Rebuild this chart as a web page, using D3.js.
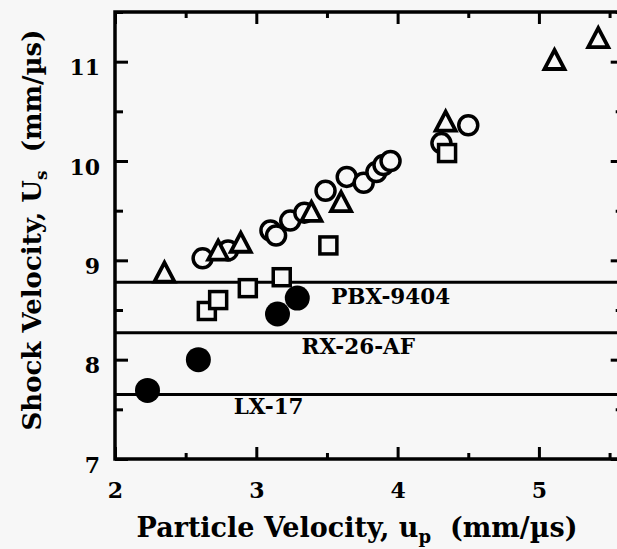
<!DOCTYPE html>
<html>
<head>
<meta charset="utf-8">
<script src="https://cdn.jsdelivr.net/npm/d3@7"></script>
<style>
  html, body { margin: 0; padding: 0; background: #f7f7f7; }
  svg { display: block; }
  text { font-family: "DejaVu Serif", serif; font-weight: bold; fill: #000; }
</style>
</head>
<body>
<svg id="chart" width="617" height="549"></svg>
<script>
// ---- data ----
const circleX = [2.62, 2.80, 3.10, 3.14, 3.24, 3.34, 3.49, 3.64, 3.76, 3.85, 3.90, 3.95, 4.31, 4.50];
const circleY = [9.02, 9.10, 9.30, 9.25, 9.40, 9.48, 9.70, 9.84, 9.78, 9.89, 9.96, 10.00, 10.18, 10.36];
const squareX = [2.65, 2.73, 2.94, 3.18, 3.51, 4.35];
const squareY = [8.49, 8.60, 8.72, 8.83, 9.15, 10.08];
const triangleX = [2.35, 2.73, 2.89, 3.39, 3.60, 4.34, 5.11, 5.42];
const triangleY = [8.85, 9.07, 9.15, 9.46, 9.56, 10.37, 10.99, 11.21];
const filledX = [2.23, 2.59, 3.15, 3.29];
const filledY = [7.69, 8.00, 8.46, 8.62];
const refNames = ["PBX-9404", "RX-26-AF", "LX-17"];
const refValues = [8.78, 8.27, 7.65];
const refLabelX = [3.53, 3.32, 2.84];
const refLabelY = [8.56, 8.06, 7.45];
const xTicks = [2, 3, 4, 5];
const xMinor = [2.5, 3.5, 4.5, 5.5];
const yTicks = [7, 8, 9, 10, 11];
const yMinor = [7.5, 8.5, 9.5, 10.5, 11.5];

(function () {
// ---- layout ----
const svg = d3.select("#chart");
const mLeft = 115, mTop = 12, mBottom = 459, mRight = 623.7;
const x = d3.scaleLinear().domain([2, 5.6]).range([mLeft, mRight]);
const y = d3.scaleLinear().domain([7, 11.5]).range([mBottom, mTop]);
const bg = "#f7f7f7";

// frame
svg.append("rect").attr("x", mLeft).attr("y", mTop)
  .attr("width", mRight - mLeft).attr("height", mBottom - mTop)
  .attr("fill", "none").attr("stroke", "#000").attr("stroke-width", 3.5);

function styleAxis(g) {
  g.select(".domain").remove();
  g.selectAll(".tick line").attr("stroke", "#000").attr("stroke-width", 3);
  g.selectAll(".tick text").attr("font-size", 22).attr("font-family", "DejaVu Serif, serif").attr("font-weight", "bold").attr("fill", "#000");
}

// bottom
svg.append("g").attr("transform", `translate(0,${mBottom})`)
  .call(d3.axisBottom(x).tickValues(xTicks).tickFormat(d3.format("d")).tickSize(-12).tickPadding(23))
  .call(styleAxis);
svg.append("g").attr("transform", `translate(0,${mBottom})`)
  .call(d3.axisBottom(x).tickValues(xMinor).tickFormat("").tickSize(-6))
  .call(styleAxis);
// top
svg.append("g").attr("transform", `translate(0,${mTop})`)
  .call(d3.axisTop(x).tickValues(xTicks).tickFormat("").tickSize(-12))
  .call(styleAxis);
svg.append("g").attr("transform", `translate(0,${mTop})`)
  .call(d3.axisTop(x).tickValues(xMinor).tickFormat("").tickSize(-6))
  .call(styleAxis);
// left
svg.append("g").attr("transform", `translate(${mLeft},0)`)
  .call(d3.axisLeft(y).tickValues(yTicks).tickFormat(d3.format("d")).tickSize(-13).tickPadding(15))
  .call(styleAxis)
  .selectAll(".tick text").attr("dy", "0.6em");
svg.append("g").attr("transform", `translate(${mLeft},0)`)
  .call(d3.axisLeft(y).tickValues(yMinor).tickFormat("").tickSize(-8))
  .call(styleAxis);
// right
svg.append("g").attr("transform", `translate(${mRight},0)`)
  .call(d3.axisRight(y).tickValues(yTicks).tickFormat("").tickSize(-13))
  .call(styleAxis);
svg.append("g").attr("transform", `translate(${mRight},0)`)
  .call(d3.axisRight(y).tickValues(yMinor).tickFormat("").tickSize(-8))
  .call(styleAxis);

// reference lines
refValues.forEach((v, i) => {
  svg.append("line").attr("x1", mLeft).attr("x2", mRight)
    .attr("y1", y(v)).attr("y2", y(v))
    .attr("stroke", "#000").attr("stroke-width", 3);
  svg.append("text").attr("x", x(refLabelX[i])).attr("y", y(refLabelY[i]))
    .attr("font-size", 21.5).text(refNames[i]);
});

// markers
const g = svg.append("g");
g.selectAll("circle.open").data(d3.range(circleX.length)).join("circle")
  .attr("class", "open")
  .attr("cx", i => x(circleX[i])).attr("cy", i => y(circleY[i])).attr("r", 9.5)
  .attr("fill", bg).attr("stroke", "#000").attr("stroke-width", 3.5);
g.selectAll("rect.sq").data(d3.range(squareX.length)).join("rect")
  .attr("class", "sq")
  .attr("x", i => x(squareX[i]) - 8.5).attr("y", i => y(squareY[i]) - 8.5)
  .attr("width", 17).attr("height", 17)
  .attr("fill", bg).attr("stroke", "#000").attr("stroke-width", 3.5);
const tw = 20, th = 19;
g.selectAll("path.tri").data(d3.range(triangleX.length)).join("path")
  .attr("class", "tri")
  .attr("d", i => {
    const cx = x(triangleX[i]), cy = y(triangleY[i]);
    return `M${cx},${cy - th * 2 / 3}L${cx + tw / 2},${cy + th / 3}L${cx - tw / 2},${cy + th / 3}Z`;
  })
  .attr("fill", bg).attr("stroke", "#000").attr("stroke-width", 3.8).attr("stroke-linejoin", "miter");
g.selectAll("circle.filled").data(d3.range(filledX.length)).join("circle")
  .attr("class", "filled")
  .attr("cx", i => x(filledX[i])).attr("cy", i => y(filledY[i])).attr("r", 12.5)
  .attr("fill", "#000");

// axis titles
const xt = svg.append("text").attr("x", 357).attr("y", 537)
  .attr("text-anchor", "middle").attr("font-size", 27);
xt.append("tspan").text("Particle Velocity, u");
xt.append("tspan").attr("font-size", 18).attr("dy", 6).text("p");
xt.append("tspan").attr("dy", -6).text("\u00a0\u00a0(mm/\u00b5s)");

const yt = svg.append("text").attr("transform", "translate(41,230) rotate(-90)")
  .attr("text-anchor", "middle").attr("font-size", 26);
yt.append("tspan").text("Shock Velocity, U");
yt.append("tspan").attr("font-size", 17).attr("dy", 6).text("s");
yt.append("tspan").attr("dy", -6).text("\u00a0\u00a0(mm/\u00b5s)");
})();
</script>
</body>
</html>
